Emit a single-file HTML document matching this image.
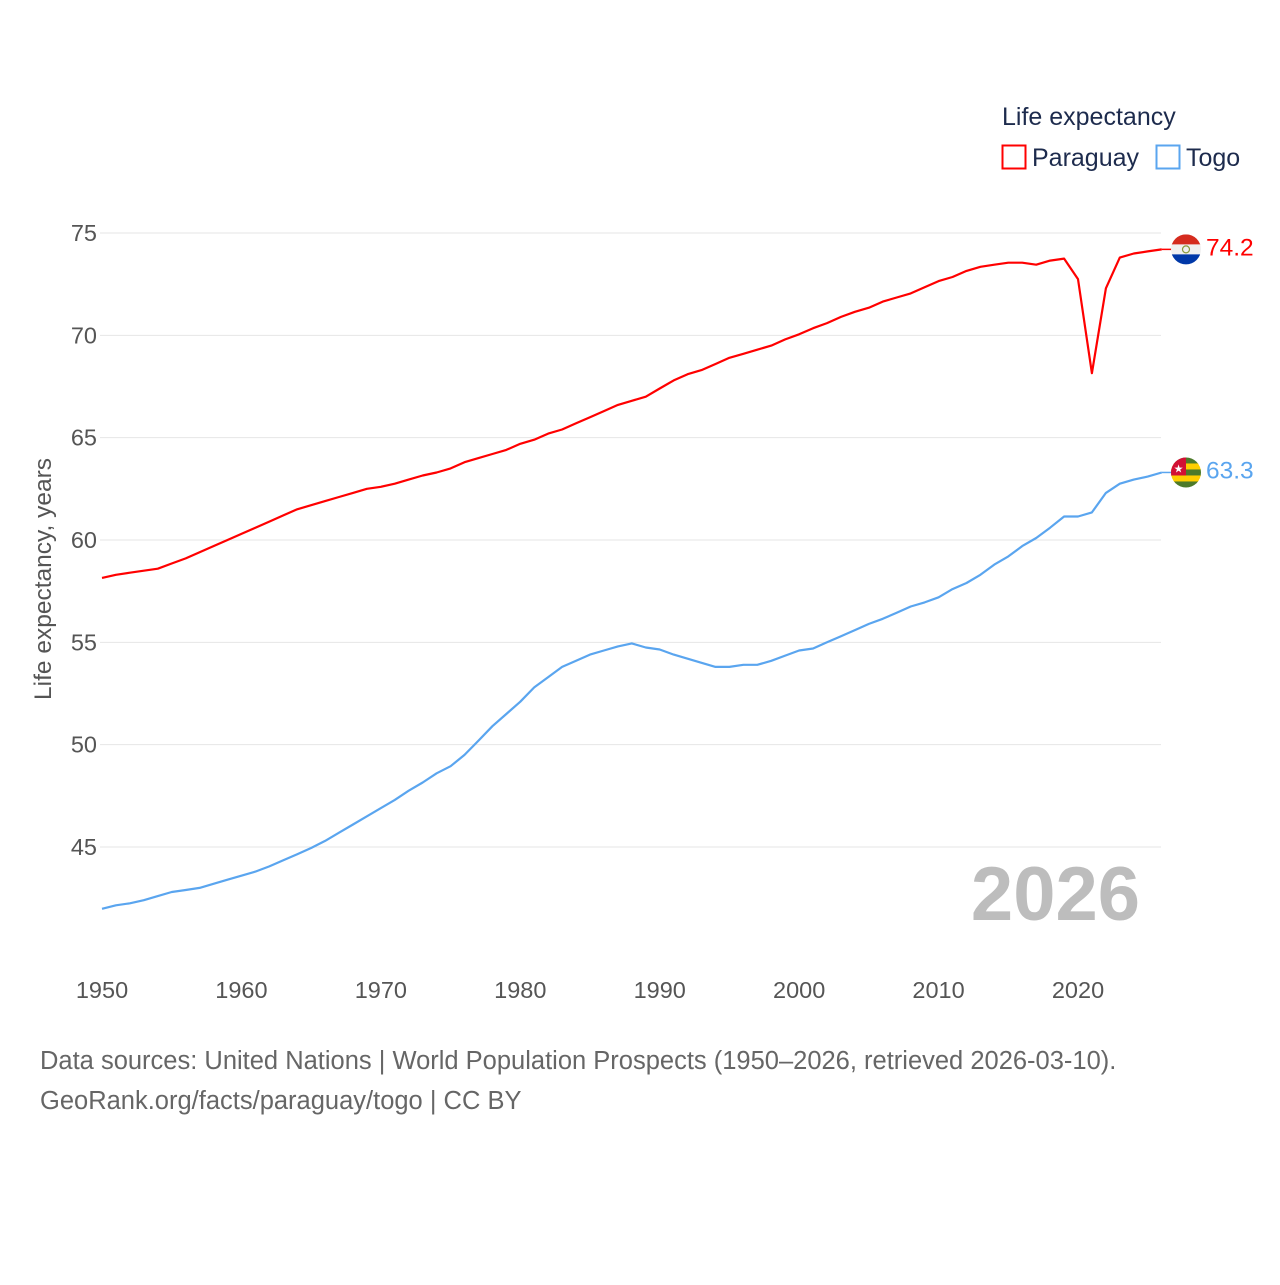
<!DOCTYPE html>
<html><head><meta charset="utf-8"><style>
body{margin:0;background:#fff;}
svg text{font-family:"Liberation Sans",sans-serif;}
</style></head><body>
<svg id="chart" width="1280" height="1280" viewBox="0 0 1280 1280" xmlns="http://www.w3.org/2000/svg">
<text x="1002" y="125" font-size="25" fill="#1d2b4d">Life expectancy</text>
<g><rect x="1002.5" y="145.5" width="23" height="23" fill="none" stroke="#f00" stroke-width="2"/><text x="1032" y="166" font-size="25" fill="#1d2b4d">Paraguay</text></g>
<g><rect x="1156.5" y="145.5" width="23" height="23" fill="none" stroke="#5aa5ef" stroke-width="2"/><text x="1186" y="166" font-size="25" fill="#1d2b4d">Togo</text></g>
<g id="grid"></g>
<g id="yticks"></g>
<g id="xticks"></g>
<text transform="translate(51,579) rotate(-90)" text-anchor="middle" font-size="24.5" fill="#555">Life expectancy, years</text>
<text x="1140" y="920" text-anchor="end" font-size="76" font-weight="bold" fill="#bdbdbd">2026</text>
<g id="series"></g>
<text x="40" y="1069" font-size="25.5" fill="#666">Data sources: United Nations | World Population Prospects (1950–2026, retrieved 2026-03-10).</text>
<text x="40" y="1109" font-size="25.5" fill="#666">GeoRank.org/facts/paraguay/togo | CC BY</text>
</svg>
<script>
const years=[];for(let y=1950;y<=2026;y++)years.push(y);
const paraguay=[58.15,58.3,58.4,58.5,58.6,58.85,59.1,59.4,59.7,60.0,60.3,60.6,60.9,61.2,61.5,61.7,61.9,62.1,62.3,62.5,62.6,62.75,62.95,63.15,63.3,63.5,63.8,64.0,64.2,64.4,64.7,64.9,65.2,65.4,65.7,66.0,66.3,66.6,66.8,67.0,67.4,67.8,68.1,68.3,68.6,68.9,69.1,69.3,69.5,69.8,70.05,70.35,70.6,70.9,71.15,71.35,71.65,71.85,72.05,72.35,72.65,72.85,73.15,73.35,73.45,73.55,73.55,73.45,73.65,73.75,72.75,68.15,72.3,73.8,74.0,74.1,74.2];
const togo=[41.98,42.15,42.25,42.4,42.6,42.8,42.9,43.0,43.2,43.4,43.6,43.8,44.05,44.35,44.65,44.95,45.3,45.7,46.1,46.5,46.9,47.3,47.75,48.15,48.6,48.95,49.5,50.2,50.9,51.5,52.1,52.8,53.3,53.8,54.1,54.4,54.6,54.8,54.95,54.75,54.65,54.4,54.2,54.0,53.8,53.8,53.9,53.9,54.1,54.35,54.6,54.7,55.0,55.3,55.6,55.9,56.15,56.45,56.75,56.95,57.2,57.6,57.9,58.3,58.8,59.2,59.7,60.1,60.6,61.15,61.15,61.35,62.3,62.75,62.95,63.1,63.3];
const yTicks=[45,50,55,60,65,70,75];
const xTicks=[1950,1960,1970,1980,1990,2000,2010,2020];
const NS='http://www.w3.org/2000/svg';
const x=v=>102+(v-1950)*(976/70);
const y=v=>233+(75-v)*(614/30);
function mk(tag,attrs,parent){const e=document.createElementNS(NS,tag);for(const k in attrs)e.setAttribute(k,attrs[k]);parent.appendChild(e);return e;}
const grid=document.getElementById('grid'),yt=document.getElementById('yticks'),xt=document.getElementById('xticks'),ser=document.getElementById('series');
yTicks.forEach(t=>{
 const l=mk('line',{x1:100,x2:1161,y1:y(t),y2:y(t),stroke:'#e6e6e6','stroke-width':1},grid);
 
 
 const tx=mk('text',{x:97,y:y(t)+8,'text-anchor':'end','font-size':23.5,fill:'#555'},yt);tx.textContent=t;
 
 
});
xTicks.forEach(t=>{
 const tx=mk('text',{x:x(t),y:998,'text-anchor':'middle','font-size':23.5,fill:'#555'},xt);tx.textContent=t;
 
 
});
function line(vals,color,name){
 const d=vals.map((v,i)=>(i?'L':'M')+x(years[i]).toFixed(1)+','+y(v).toFixed(1)).join('');
 const p=mk('path',{d:d,fill:'none',stroke:color,'stroke-width':2.2,'stroke-linejoin':'round'},ser);
 
 
 const last=vals[vals.length-1],ly=y(last),lx=x(years[years.length-1]);
 mk('line',{x1:lx,x2:1172,y1:ly,y2:ly,stroke:color,'stroke-width':1.5},ser);
 const lab=mk('text',{x:1206,y:ly+6,'font-size':24.5,fill:color},ser);lab.textContent=last.toFixed(1);
 
 
 return ly;
}
const py=line(paraguay,'#ff0000','paraguay');
const ty=line(togo,'#5aa5ef','togo');
function flag(cy,name,stripes,extra){
 const g=mk('g',{},ser);
 
 
 const id='clip'+name;
 const cp=mk('clipPath',{id:id},g);mk('circle',{cx:1186,cy:cy,r:15},cp);
 const inner=mk('g',{'clip-path':'url(#'+id+')'},g);
 const h=30/stripes.length;
 stripes.forEach((c,i)=>mk('rect',{x:1171,y:cy-15+i*h,width:30,height:h+0.5,fill:c},inner));
 extra(inner,cy);
}
flag(py,'paraguay',['#d52b1e','#f0f0f0','#0038a8'],(g,cy)=>{mk('circle',{cx:1186,cy:cy,r:3.5,fill:'none',stroke:'#8a9a3a','stroke-width':1.2},g);});
flag(ty,'togo',['#4d7a2a','#ffce00','#4d7a2a','#ffce00','#4d7a2a'],(g,cy)=>{
 mk('rect',{x:1171,y:cy-15,width:15,height:18,fill:'#d21034'},g);
 const t=mk('text',{x:1178.5,y:cy+0,'text-anchor':'middle','font-size':11,fill:'#fff'},g);t.textContent='★';
});
</script>
</body></html>
